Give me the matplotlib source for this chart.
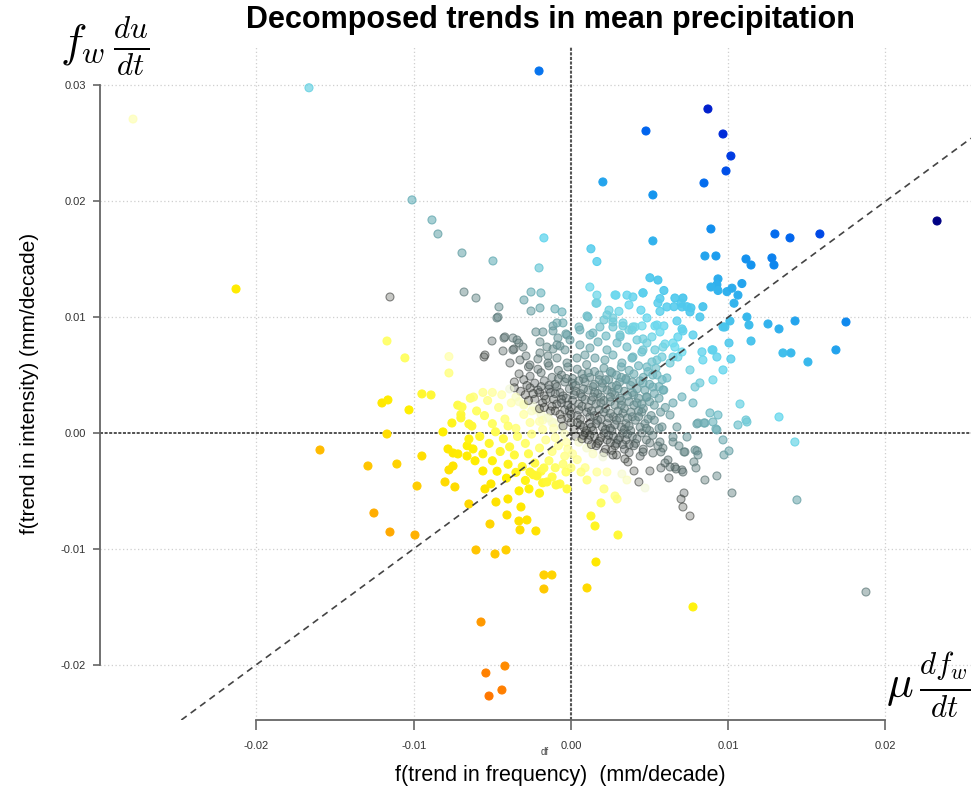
import numpy as np
import matplotlib
matplotlib.use("Agg")
import matplotlib.pyplot as plt
from matplotlib.colors import LinearSegmentedColormap

plt.rcParams["font.family"] = ["Liberation Sans", "DejaVu Sans"]
plt.rcParams["mathtext.fontset"] = "cm"

# Trends per grid cell in 1e-3 mm/decade: (frequency term, intensity term)
outer_points = [
    (-27.85, 27.1), (-16.66, 29.8), (-2.03, 31.25), (8.71, 27.97), (9.67, 25.81), (10.17, 23.91),
    (9.86, 22.62), (4.77, 26.07), (2.03, 21.67), (8.46, 21.58), (5.21, 20.55), (23.28, 18.30),
    (-10.11, 20.12), (-8.84, 18.39), (-8.46, 17.18), (-21.30, 12.43), (-1.72, 16.84), (-6.93, 15.54),
    (-4.96, 14.85), (-2.03, 14.25), (5.21, 16.58), (8.90, 17.61), (12.97, 17.18), (13.93, 16.84),
    (15.83, 17.18), (8.52, 15.28), (9.22, 15.28), (11.13, 15.02), (11.45, 14.50), (12.78, 15.11),
    (12.91, 14.50), (-11.51, 11.74), (-11.70, 7.94), (-10.56, 6.48), (17.49, 9.58), (16.85, 7.17),
    (15.07, 6.13), (13.99, 6.91), (13.48, 6.91), (11.45, 7.94), (10.05, 7.77), (14.25, 9.67),
    (13.23, 8.98), (12.53, 9.41), (11.32, 9.32), (11.19, 10.01), (10.11, 9.67), (9.67, 9.15),
    (10.75, 2.50), (11.13, 1.12), (13.23, 1.38), (14.24, -0.78), (14.37, -5.78), (18.76, -13.73),
    (10.24, -5.18), (7.76, -15.02),
    (-15.96, -1.47), (-12.91, -2.85), (-11.70, -0.09), (-11.07, -2.68), (-12.53, -6.91), (-11.51, -8.55),
    (-9.92, -8.81), (-9.79, -4.58), (-9.48, -1.99), (-12.02, 2.59), (-11.64, 2.85), (-10.30, 1.99),
    (-9.48, 3.37), (-8.90, 3.28), (-8.01, -4.23), (-7.38, -4.66), (-7.76, -3.19), (-7.50, -2.85),
    (-7.82, -1.38), (-7.50, -1.73), (-7.19, -1.81), (-6.61, -1.99), (-6.23, -1.38), (-6.49, -0.52),
    (-8.14, 0.09), (-7.57, 0.86), (-6.49, 0.78), (-5.60, -3.28), (-5.47, -4.83), (-5.09, -4.40),
    (-6.49, -6.13), (-4.77, -5.96), (-4.01, -5.70), (-5.15, -7.86), (-4.07, -7.08), (-3.31, -7.60),
    (-2.80, -7.51), (-3.24, -8.37), (-2.23, -8.46), (-3.18, -6.39), (-6.04, -10.10), (-4.83, -10.45),
    (-4.13, -10.10), (-1.72, -12.26), (-1.21, -12.26), (-1.72, -13.47), (-5.72, -16.32), (-4.20, -20.12),
    (-5.41, -20.72), (-4.39, -22.19), (-5.21, -22.71), (-2.67, -4.83), (-1.53, -4.23), (-0.95, -4.49),
    (-0.25, -4.83), (-0.32, -3.37), (-1.72, -3.02), (-2.61, -3.37), (-2.16, -3.71), (-7.76, 6.6),
    (-7.76, 5.18), (-7.0, 1.3), (-6.93, 2.24), (-6.2, 3.1), (-5.6, 3.5),
    (2.1, -4.83), (1.91, -6.04), (2.8, -5.44), (2.93, -5.7), (1.27, -7.17), (1.53, -8.03),
    (2.99, -8.81), (1.59, -11.14), (1.02, -13.38), (0.64, -3.37), (1.02, -4.06), (1.65, -3.37),
    (2.29, -3.37),
]

ring_points = [
    (1.2, 12.6), (1.65, 11.9), (2.86, 11.9), (3.56, 11.9), (4.58, 12.1), (5.91, 12.3), (5.66, 11.6),
    (7.12, 11.65), (9.35, 13.3), (9.28, 12.8), (8.9, 12.6), (9.35, 12.3), (9.92, 12.2), (10.24, 12.5),
    (10.87, 12.9), (10.62, 11.9), (10.37, 11.2), (5.02, 13.4), (5.53, 13.2), (1.27, 15.9), (1.65, 14.8),
    (1.59, 11.2), (2.42, 10.6), (3.05, 10.5), (3.69, 11.05), (4.45, 10.6), (5.66, 10.5), (6.55, 10.9),
    (7.0, 11.2), (7.38, 10.9), (7.63, 10.8), (8.39, 10.9), (1.02, 10.1), (2.1, 9.76), (2.67, 9.93),
    (3.31, 9.24), (3.94, 9.15), (4.52, 9.24), (4.83, 9.93), (5.34, 9.24), (5.91, 9.24), (6.74, 9.67),
    (7.06, 8.98), (0.51, 9.15), (-0.51, 9.5), (-0.25, 8.46), (1.4, 8.63), (2.23, 8.37), (3.12, 8.29),
    (3.69, 8.89), (4.58, 8.12), (5.98, 7.68), (6.49, 7.77), (6.8, 8.29), (7.12, 8.81), (8.33, 7.0),
    (9.03, 7.17), (10.17, 6.39),
    (5.85, 7.42), (6.49, 6.56), (7.06, 6.99), (7.57, 5.44), (8.2, 4.32), (9.03, 4.58), (9.67, 5.44),
    (8.97, 7.17), (9.28, 6.56), (9.79, 9.15), (8.39, 6.3), (7.89, 3.97), (7.06, 3.11), (7.76, 2.59),
    (8.08, 0.86), (8.52, 0.86), (9.28, 0.26), (9.67, -0.6), (9.35, 1.55), (8.84, 1.73), (7.38, -0.35),
    (7.89, -1.47), (7.25, -1.64), (6.49, -0.78), (6.17, -2.33), (6.61, -2.94), (7.06, -3.19),
    (5.85, -1.3), (5.79, 0.52), (6.3, 1.55), (6.49, 2.59), (5.85, 3.71), (6.1, 4.75), (5.47, 5.01),
    (5.21, 3.97), (4.83, 3.11), (4.58, 4.32), (4.83, 5.7), (5.47, 6.3), (4.51, 6.99), (3.94, 6.56),
    (3.56, 7.42), (3.12, 8.46), (3.88, 8.89), (5.15, 8.29), (5.66, 8.72), (7.76, 8.46), (8.2, 10.01),
    (7.57, 10.45), (7.06, 10.88), (6.61, 11.65), (6.1, 10.88), (5.53, 11.22), (4.58, 12.09),
    (3.94, 11.74), (2.8, 11.91), (1.65, 11.22), (2.29, 10.19), (2.67, 9.58), (1.84, 9.15),
    (1.08, 10.01), (0.57, 8.89),
    (9.22, 0.35), (9.73, -1.9), (10.05, -1.55), (8.01, -1.55), (8.08, -1.9), (7.82, -2.5),
    (7.95, -3.02), (7.19, -1.64), (6.87, -1.12), (7.12, -3.37), (6.68, -3.11), (6.3, -2.94),
    (5.98, -2.59), (5.72, -3.02), (6.23, -3.88), (7.19, -5.18), (7.0, -5.7), (7.12, -6.39),
    (7.57, -7.17), (5.02, -3.28), (4.01, -3.28), (4.32, -4.23), (3.24, -3.54), (4.71, -4.75),
    (3.56, -4.06), (5.72, -1.64), (5.21, -1.73), (4.58, -1.64), (3.62, -2.5), (3.43, -2.24),
    (2.67, -1.9), (2.03, -2.07), (5.66, -0.78), (5.53, -1.12), (5.02, -0.86), (6.49, -0.35),
    (6.74, 0.52), (8.01, 0.78), (8.46, 0.86), (9.03, 0.95), (10.62, 0.69), (11.19, 0.95),
    (8.52, -4.06), (9.28, -3.71),
    (-6.8, 12.17), (-6.04, 11.65), (-4.58, 10.88), (-4.71, 9.93), (-2.99, 11.48), (-2.54, 12.17),
    (-1.91, 12.09), (-2.54, 10.53), (-1.97, 10.79), (-1.02, 10.71), (-0.57, 10.45), (-5.53, 6.56),
    (-5.02, 7.94), (-4.26, 8.2), (-3.69, 8.2), (-3.31, 7.77), (-4.32, 7.08), (-3.62, 7.25),
    (-2.86, 6.65), (-2.23, 8.72), (-1.78, 8.72), (-1.97, 7.86), (-1.14, 9.24), (-0.89, 9.5),
    (-1.14, 8.81), (-0.83, 8.2), (-0.32, 8.55), (-1.53, 7.42), (-1.14, 7.25), (-0.7, 7.51),
    (-1.97, 6.91), (-1.46, 6.65), (-4.64, 10.01), (-5.47, 6.73), (-3.88, 6.04), (-3.24, 6.3),
    (-2.61, 5.87), (-2.1, 6.39), (-1.46, 6.04), (-0.89, 6.47), (-0.25, 6.04), (-3.43, 8.03),
    (-4.2, 8.29), (-3.69, 7.17), (-3.05, 7.42),
    (0.38, 6.47), (0.89, 6.73), (1.53, 6.47), (2.16, 6.3), (2.67, 6.73), (3.24, 6.04), (3.88, 6.47),
    (4.58, 7.17), (5.15, 6.13), (5.79, 6.56), (6.3, 6.04), (6.8, 6.56), (0.57, 7.6), (1.21, 7.34),
    (1.72, 7.86), (2.29, 7.17), (2.93, 7.77), (4.2, 8.03), (4.83, 7.77), (5.34, 7.17), (6.61, 7.42),
    (-0.38, 7.17), (-0.06, 8.03), (-0.89, 7.6), (1.21, 8.46), (2.67, 9.15), (3.31, 9.5), (4.07, 9.15),
    (5.47, 9.32),
]

core_points = [
    (-2.7, 5.7), (-2.1, 5.5), (-1.4, 5.8), (-0.8, 5.4), (-0.2, 5.7), (0.4, 5.5), (1.0, 5.9), (1.5, 5.3),
    (2.1, 5.6), (2.6, 5.2), (3.2, 5.7), (3.7, 5.4), (4.3, 5.8), (4.9, 5.3), (5.4, 5.6),
    (-3.3, 5.1), (-2.6, 4.9), (-1.9, 5.2), (-1.2, 4.8), (-0.6, 5.0), (0.1, 4.7), (0.7, 5.1), (1.2, 4.8),
    (1.8, 5.0), (2.4, 4.6), (2.9, 5.0), (3.5, 4.7), (4.0, 5.1), (4.6, 4.8), (5.2, 5.0), (5.8, 4.6),
    (-3.6, 4.4), (-3.0, 4.6), (-2.3, 4.3), (-1.7, 4.5), (-1.0, 4.2), (-0.4, 4.4), (0.3, 4.1), (0.9, 4.4),
    (1.4, 4.0), (2.0, 4.3), (2.6, 4.0), (3.1, 4.4), (3.8, 4.1), (4.4, 4.5), (5.0, 4.2), (5.6, 4.0),
    (-3.9, 3.8), (-3.2, 3.6), (-2.6, 3.9), (-2.0, 3.5), (-1.4, 3.8), (-0.7, 3.5), (-0.1, 3.8), (0.6, 3.4),
    (1.1, 3.7), (1.7, 3.4), (2.3, 3.7), (2.8, 3.3), (3.4, 3.6), (4.0, 3.3), (4.7, 3.7), (5.3, 3.4),
    (5.9, 3.7),
    (-3.5, 3.1), (-2.9, 3.3), (-2.3, 2.9), (-1.7, 3.2), (-1.1, 2.9), (-0.5, 3.2), (0.1, 2.8), (0.7, 3.1),
    (1.3, 2.8), (1.9, 3.1), (2.5, 2.7), (3.1, 3.0), (3.7, 2.7), (4.3, 3.0), (5.0, 2.7), (5.6, 3.0),
    (-3.0, 2.5), (-2.4, 2.3), (-1.8, 2.6), (-1.2, 2.3), (-0.6, 2.6), (0.0, 2.2), (0.5, 2.5), (1.1, 2.2),
    (1.6, 2.5), (2.2, 2.1), (2.8, 2.4), (3.4, 2.1), (4.0, 2.4), (4.6, 2.1), (5.3, 2.4), (6.0, 2.2),
    (-2.5, 1.9), (-1.9, 1.6), (-1.3, 1.9), (-0.7, 1.6), (-0.1, 1.9), (0.4, 1.5), (1.0, 1.8), (1.5, 1.5),
    (2.1, 1.8), (2.7, 1.4), (3.3, 1.7), (3.9, 1.4), (4.5, 1.8), (5.1, 1.5), (5.7, 1.8),
    (-1.8, 1.1), (-1.2, 0.9), (-0.6, 1.2), (0.0, 0.9), (0.6, 1.2), (1.2, 0.8), (1.7, 1.1), (2.3, 0.8),
    (2.9, 1.1), (3.5, 0.8), (4.1, 1.1), (4.7, 0.8), (5.3, 1.1),
    (-1.1, 0.4), (-0.5, 0.6), (0.2, 0.3), (0.8, 0.5), (1.4, 0.2), (2.0, 0.5), (2.6, 0.2), (3.2, 0.5),
    (3.8, 0.2), (4.4, 0.5), (5.0, 0.2), (5.6, 0.4),
    (-0.4, -0.1), (0.3, -0.3), (0.9, 0.0), (1.5, -0.3), (2.1, 0.0), (2.7, -0.3), (3.3, 0.0), (3.9, -0.3),
    (4.5, 0.0), (5.2, -0.2),
    (0.5, -0.8), (1.1, -0.6), (1.7, -0.9), (2.3, -0.6), (2.9, -0.9), (3.5, -0.6), (4.1, -0.9), (4.8, -0.6),
    (1.0, -1.3), (1.6, -1.1), (2.2, -1.4), (2.8, -1.1), (3.4, -1.4), (4.0, -1.1), (4.6, -1.4),
    (1.4, -1.8), (2.1, -1.7), (2.9, -1.9), (3.7, -1.7), (4.4, -2.0),
    (-0.3, 3.0), (0.3, 3.6), (0.9, 2.9), (1.5, 3.5), (2.1, 2.8), (2.6, 3.5), (3.2, 2.8), (3.9, 3.5),
    (-0.2, 1.3), (0.5, 2.0), (1.2, 1.4), (1.8, 2.0), (2.4, 1.3), (3.0, 1.9), (3.6, 1.3), (4.3, 1.9),
    (0.4, 0.9), (1.0, 0.2), (1.6, 0.8), (2.2, 0.3), (2.8, 0.7), (3.4, 0.3), (0.1, 4.3), (0.8, 4.7),
    (1.5, 4.2), (2.2, 4.6), (2.9, 4.1), (3.5, 4.6), (-1.6, 2.9), (-1.0, 3.4), (-2.1, 3.7), (-1.4, 4.1),
    (-0.8, 4.7), (-2.8, 4.1), (1.9, -0.4), (2.5, -0.8), (3.1, -0.4), (3.7, -1.0), (0.7, -0.5),
    (4.2, 2.6), (4.8, 3.1), (4.9, 1.2), (-0.4, 2.0), (-0.9, 2.5), (-2.0, 2.1), (-1.5, 1.3),
    (-2.7, 2.8), (-3.3, 2.7),
    (0.2, 3.3), (0.8, 3.8), (1.4, 3.1), (2.0, 3.9), (2.5, 3.1), (3.0, 3.8), (3.6, 3.2), (4.2, 3.8),
    (0.0, 1.6), (0.7, 2.3), (1.3, 1.9), (1.9, 2.6), (2.5, 1.7), (3.2, 2.4), (3.8, 1.8), (4.5, 2.5),
    (0.6, 0.7), (1.3, 0.5), (1.9, 1.2), (2.5, 0.4), (3.1, 1.3), (3.7, 0.6), (4.3, 1.4), (4.8, 0.4),
    (-0.6, 2.9), (-1.3, 3.5), (-1.9, 4.0), (-2.4, 3.4), (-0.9, 4.0), (-0.3, 4.7), (0.5, 4.5),
    (1.1, 5.2), (1.8, 4.6), (2.5, 5.3), (3.2, 4.8), (3.9, 4.4), (-1.7, 2.2), (-1.0, 1.9), (-0.2, 2.4),
    (1.2, -0.2), (1.8, -0.7), (2.4, -0.2), (3.0, -0.6), (3.6, -0.1), (4.2, -0.5), (0.8, -0.2),
    (2.6, -1.5), (3.3, -1.0), (1.3, -1.0),
]

pale_points = [
    (-5.5, 1.5), (-5.0, 0.8), (-4.6, 2.2), (-4.2, 1.2), (-3.8, 2.6), (-3.5, 0.4), (-3.0, 1.6),
    (-2.6, 0.9), (-2.2, 2.0), (-1.8, 0.3), (-1.4, 1.3), (-1.0, -0.4), (-0.6, 0.5), (-0.3, -0.8),
    (-5.8, -0.3), (-5.2, -0.9), (-4.8, 0.1), (-4.3, -0.5), (-3.9, -1.2), (-3.4, -0.3), (-2.9, -0.9),
    (-2.5, -0.1), (-2.0, -1.3), (-1.6, -0.6), (-1.2, -1.6), (-0.8, -1.1), (-0.4, -2.0), (0.1, -1.8),
    (-5.6, -1.8), (-5.0, -2.4), (-4.5, -1.6), (-4.0, -2.7), (-3.6, -1.9), (-3.1, -2.9), (-2.7, -1.8),
    (-2.3, -2.6), (-1.9, -3.3), (-1.4, -2.4), (-1.0, -3.0), (-0.5, -2.7), (0.0, -3.0),
    (-4.7, -3.3), (-4.1, -3.9), (-3.5, -3.4), (-2.9, -4.1), (-2.4, -3.6), (-1.8, -4.3), (-1.2, -3.8),
    (-0.7, -4.4), (-6.3, 0.6), (-6.6, -1.1), (-6.0, 1.9), (-5.3, 2.8), (-4.4, 3.3), (-3.6, 3.9),
    (-6.1, -2.4), (-3.3, -5.0), (-2.0, -5.2), (0.4, -2.3), (0.9, -3.0), (-0.2, -1.4), (-1.1, 0.9),
    (-2.0, 1.0), (-3.0, 2.4), (-4.0, 0.6), (-5.0, 3.5), (-6.4, 3.0), (-7.0, 1.6), (-7.2, 2.4),
]

x_ticks = [-0.02, -0.01, 0.0, 0.01, 0.02]
x_tick_labels = ["-0.02", "-0.01", "0.00", "0.01", "0.02"]
y_ticks = [-0.02, -0.01, 0.0, 0.01, 0.02, 0.03]
y_tick_labels = ["-0.02", "-0.01", "0.00", "0.01", "0.02", "0.03"]

# colour scale on the total trend (frequency + intensity), 1e-3 mm/decade
sum_stops = [-28, -22, -17, -12, -8, -4, -1, 0, 2, 5, 9, 14, 20, 26, 31, 35, 38, 42]
stop_colors = ["#ff7700", "#ff9a00", "#ffbf00", "#ffdc00", "#fff000", "#ffff60", "#ffffa8",
               "#f2f8d8", "#d6f2ee", "#b8f0f0", "#94e6ee", "#72dcee", "#40c0ec", "#1494ee",
               "#0064ee", "#0032e0", "#0012c0", "#000080"]
lo, hi = sum_stops[0], sum_stops[-1]
cmap = LinearSegmentedColormap.from_list(
    "trend", [((s - lo) / (hi - lo), c) for s, c in zip(sum_stops, stop_colors)])


def point_styles(pts):
    pts = np.asarray(pts, dtype=float)
    total = pts[:, 0] + pts[:, 1]
    rgb = cmap(np.clip((total - lo) / (hi - lo), 0, 1))[:, :3]
    pos = total >= 0
    # rings and fills turn grey towards zero on the wetting side only
    w = np.where(pos, np.clip(total / 14, 0, 1), 1.0)
    face_a = np.where(pos, np.clip(0.3 + total / 30, 0.3, 1), np.clip(0.6 - total / 12, 0.6, 1))
    face_rgb = rgb * (0.3 + 0.7 * w)[:, None]
    edge_rgb = rgb * (0.08 + 0.92 * w ** 0.8)[:, None]
    edge_a = np.where(pos, 0.5 + 0.5 * w, face_a)
    face = np.column_stack([face_rgb, face_a])
    edge = np.column_stack([edge_rgb, edge_a])
    return pts * 1e-3, face, edge


fig = plt.figure(figsize=(9.71, 7.94), dpi=100)
ax = fig.add_axes([100 / 971, 74 / 794, 871 / 971, 673 / 794])
ax.set_xlim(-0.02995, 0.02544)
ax.set_ylim(-0.02478, 0.03332)

# reference lines
for gx in [-0.02, -0.01, 0.01, 0.02]:
    ax.axvline(gx, color="#cfcfcf", lw=0.9, ls=(0, (1, 2)), zorder=0)
for gy in [-0.02, -0.01, 0.01, 0.02, 0.03]:
    ax.axhline(gy, color="#cfcfcf", lw=0.9, ls=(0, (1, 2)), zorder=0)
ax.axvline(0, color="#555555", lw=1.5, ls=(0, (1.5, 0.7)), zorder=1)
ax.axhline(0, color="#222222", lw=1.1, ls=(0, (2, 1)), zorder=1)
ax.axline((0, 0), slope=1, color="#444444", lw=1.2, ls=(0, (4, 3)), zorder=5)

for group in [pale_points, core_points, ring_points, outer_points]:
    xy, face, edge = point_styles(group)
    ax.scatter(xy[:, 0], xy[:, 1], s=33, c=face, edgecolors=edge, linewidths=0.8, zorder=3)

# R-style axes
for side in ["top", "right"]:
    ax.spines[side].set_visible(False)
for side in ["left", "bottom"]:
    ax.spines[side].set_color("#666666")
    ax.spines[side].set_linewidth(1.3)
ax.spines["left"].set_bounds(-0.02, 0.03)
ax.spines["bottom"].set_bounds(-0.02, 0.02)
ax.set_xticks(x_ticks, x_tick_labels)
ax.set_yticks(y_ticks, y_tick_labels)
ax.tick_params(axis="y", length=5, width=1.2, color="#666666", labelsize=8, pad=5, labelcolor="#333333")
ax.tick_params(axis="x", length=7, width=1.2, color="#666666", labelsize=8, pad=8, labelcolor="#333333")

fig.text(0.567, 1 - 28 / 794, "Decomposed trends in mean precipitation", fontsize=22,
         fontweight="bold", ha="center", va="baseline")
fig.text(30 / 971, 1 - 383 / 794, "f(trend in intensity) (mm/decade)", rotation=90,
         fontsize=15, ha="center", va="center")
fig.text(560 / 971, 1 - 775 / 794, "f(trend in frequency)  (mm/decade)",
         fontsize=15.5, ha="center", va="center")
fig.text(60 / 971, 1 - 46 / 794, r"$f_w\,\frac{du}{dt}$", fontsize=32, ha="left", va="center")
fig.text(0.999, 1 - 685 / 794, r"$\mu\,\frac{df_w}{dt}$", fontsize=32, ha="right", va="center")
fig.text(545 / 971, 1 - 752 / 794, "df", fontsize=7, color="#444444", ha="center", va="center")

fig.savefig("out.png", dpi=100)
